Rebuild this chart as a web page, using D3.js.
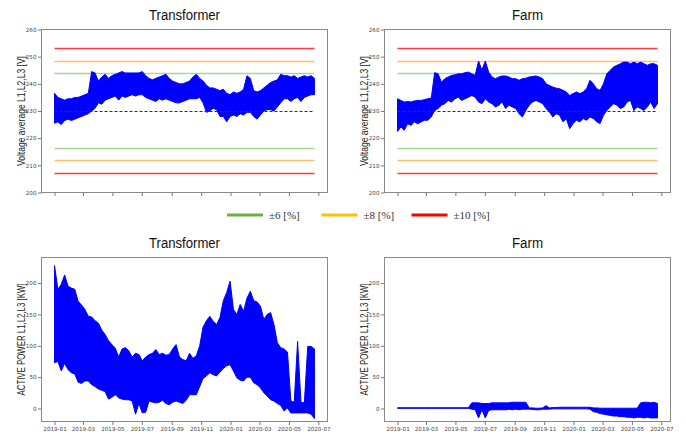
<!DOCTYPE html>
<html>
<head>
<meta charset="utf-8">
<script src="https://cdn.jsdelivr.net/npm/d3@7/dist/d3.min.js"></script>
<style>
  body { margin: 0; background: #fff; }
  svg text { font-family: "DejaVu Sans", sans-serif; }
</style>
</head>
<body>
<svg id="chart" width="686" height="434"></svg>
<script>
// DATA: weekly low / high envelope, first week = 2019-01-01
const startDate = new Date(2019, 0, 1);

const trafoVoltLow = [225.5, 226, 225, 226.5, 227, 226.5, 227, 227.5, 228, 228.5, 229, 230, 231, 233, 232.5, 234,
  234.5, 235, 235.5, 234, 235.5, 235, 235.5, 236, 235.5, 236, 236, 235, 234.5, 234, 233.5, 234.5, 234, 234.5, 234,
  233.5, 233, 233, 233.5, 234, 234.5, 234.5, 234.5, 235, 233, 229.5, 230, 231, 230.5, 228, 228, 226, 228, 228.5,
  228, 229, 228.5, 229.5, 229.5, 228, 227, 228.5, 230, 230.5, 230.5, 230, 231.5, 233, 234.5, 234.5, 233.5, 234.5,
  235, 233.5, 235, 235.5, 236, 236];
const trafoVoltHigh = [236.5, 235, 234.5, 234, 234.5, 234.5, 235, 235, 235.5, 236, 236.5, 244.5, 244, 241, 242.5,
  243.5, 242, 243, 243.5, 244, 244.5, 244, 244, 244, 244, 244, 244.5, 243, 242, 241.5, 242, 242.5, 243, 243.5, 242,
  241, 240.5, 240, 240, 240.5, 241, 242.5, 243.5, 242, 241, 239.5, 238.5, 238.5, 238, 237.5, 238, 236.5, 236, 237,
  236.5, 237, 238, 243, 242, 237.5, 237, 237.5, 238.5, 239.5, 240.5, 241, 241.5, 243.5, 243, 243, 242.5, 243, 242,
  242.5, 243, 242.5, 243, 242];

const farmVoltLow = [222.5, 224.1, 222.9, 225.3, 224.7, 226, 225.3, 226, 226.6, 226.6, 227.8, 230.2, 230.9, 232.1,
  232.7, 233.9, 233.3, 234.5, 235.1, 233.9, 234.5, 235.1, 235.7, 235.1, 233.3, 232.7, 234.5, 233.3, 232.7, 231.5,
  232.1, 233.3, 230.9, 232.1, 231.5, 230.9, 229, 227.8, 230.2, 232.1, 233.3, 233.9, 233.3, 232.7, 230.9, 229.6,
  227.8, 229, 228.4, 226, 227.2, 223.5, 225.4, 226.6, 226, 227.2, 226.6, 227.8, 227.2, 226, 225.4, 228.4, 230.2,
  231.5, 232.7, 232.1, 230.9, 231.5, 233.3, 233.9, 230.2, 231.5, 230.9, 230.2, 231.5, 233.3, 230.9, 232.7];
const farmVoltHigh = [234.5, 233.9, 233.3, 233.5, 233.3, 233.7, 233.9, 233.9, 234.2, 234.5, 234.8, 244.1, 243.7,
  240.6, 241.9, 242.5, 243.1, 243.3, 243.7, 243.7, 244.1, 244.3, 243.7, 243.1, 248.4, 245, 248.4, 244.3, 242.5,
  241.9, 242.5, 242.9, 242.9, 242.5, 241.9, 241.9, 241.3, 241.9, 242.1, 242.5, 242.7, 242.9, 242.5, 241.9, 240,
  239.4, 238.8, 238.4, 238.2, 237.6, 237, 235.7, 236.4, 237, 236.4, 237, 238.2, 241.3, 240, 238.2, 237.6, 240,
  243.7, 245, 246.2, 246.8, 247.4, 248, 248, 247.4, 248, 247.4, 248, 247.4, 246.8, 247.4, 247.4, 246.8];

const trafoPowerLow = [73, 75, 60, 72, 62, 57, 55, 42, 40, 44, 44, 38, 35, 31, 29, 27, 15, 18, 22, 17, 15, 14, 14,
  12, -9, 8, -7, -6, 12, 10, 9, 10, 13, 8, 6, 10, 12, 10, 8, 13, 22, 22, 22, 35, 48, 52, 57, 54, 52, 58, 64, 68,
  70, 60, 49, 45, 44, 50, 50, 41, 38, 33, 25, 20, 14, 12, 8, 5, -4, 1, -7, -7, -7, -7, -7, -7, -9, -16];
const trafoPowerHigh = [228, 190, 198, 213, 195, 192, 190, 171, 165, 158, 147, 146, 140, 136, 125, 118, 108, 102,
  96, 82, 95, 97, 92, 82, 88, 86, 76, 82, 86, 88, 94, 86, 88, 85, 86, 95, 102, 82, 78, 76, 88, 80, 84, 100, 130,
  140, 147, 139, 134, 145, 172, 185, 203, 158, 150, 166, 155, 176, 187, 172, 170, 163, 142, 150, 153, 134, 105, 97,
  95, 90, 12, 10, 107, 10, 9, 99, 99, 95];

const farmPowerLow = [0.3, 0.3, 0.3, 0.3, 0.3, 0.3, 0.3, 0.3, 0.3, 0.3, 0.3, 0.3, 0.3, 0.3, 0.3, 0.3, 0.3, 0.3,
  0.3, 0.3, 0.3, 0.3, -1, -2, -15, -2, -15, -3, -2, -2, -2, -2, -2, -1, -2, -1, -2, -1, -1, -1, -1.5, -2, -2, -1,
  -1, -1, -0.5, -0.5, -0.5, -0.5, -0.5, -0.5, -0.5, -0.5, -0.5, -0.5, -0.5, -1, -5, -6, -8, -9, -10, -11, -12, -12,
  -13, -13, -14, -14, -15, -14, -14, -15, -14, -15, -15, -15];
const farmPowerHigh = [1.2, 1.2, 1.2, 1.2, 1.2, 1.2, 1.2, 1.2, 1.2, 1.2, 1.2, 1.2, 1.2, 1.2, 1.2, 1.2, 1.2, 1.2,
  1.2, 1.2, 1.2, 1.2, 9, 9, 9, 8, 8, 8, 9, 9, 9, 9, 9, 9, 10, 10, 10, 10, 10, 1, 1, 0.5, 0.5, 1, 4.5, 1, 1.5, 1.5,
  2, 2, 2, 2, 2, 2, 2, 2, 2, 2, 1, 1, 0.5, 0.5, 0.5, 0.5, 0.5, 0.5, 0.5, 0.5, 0.5, 0.5, 0.5, 0.5, 9, 10, 10, 9, 10, 8];

const voltTicks = [200, 210, 220, 230, 240, 250, 260];
const powerTicks = [0, 50, 100, 150, 200];
const nominalVoltage = 230;
const limitPcts = [6, 8, 10];
const limitLabels = ['\u00b16 [%]', '\u00b18 [%]', '\u00b110 [%]'];
const titles = ['Transformer', 'Farm'];

// STYLE
const limitColors = ['#a6d895', '#ffbf66', '#ff3b3b'];
const legendColors = ['#70ad47', '#ffc000', '#ff0000'];

const svg = d3.select('#chart');

const dates = trafoVoltLow.map((d, i) => d3.timeDay.offset(startDate, i * 7));
const lastDate = dates[dates.length - 1];
const pad = 27; // days, matplotlib-like margin
const xDomain = [d3.timeDay.offset(startDate, -pad), d3.timeDay.offset(lastDate, pad)];

function panel(opts) {
  const { left, top, right, bottom } = opts;
  const x = d3.scaleTime().domain(xDomain).range([left, right]);
  const y = d3.scaleLinear().domain(opts.yDomain).range([bottom, top]);
  const g = svg.append('g');
  const snap = v => Math.round(v - 0.5) + 0.5;

  // limit lines (voltage panels)
  if (opts.limits) {
    limitPcts.forEach((p, i) => {
      [1 + p / 100, 1 - p / 100].forEach(f => {
        g.append('line')
          .attr('x1', x(startDate)).attr('x2', x(lastDate))
          .attr('y1', snap(y(nominalVoltage * f))).attr('y2', snap(y(nominalVoltage * f)))
          .style('stroke', limitColors[i]).style('stroke-width', 1.3);
      });
    });
  }

  // band of the series: weekly low..high, filled, with the envelope stroked
  const area = d3.area()
    .x((d, i) => x(dates[i]))
    .y0((d, i) => y(opts.lows[i]))
    .y1((d, i) => y(opts.highs[i]));
  g.append('path')
    .attr('d', area(opts.lows))
    .style('fill', '#0000ff')
    .style('stroke', '#0000ff')
    .style('stroke-width', 1)
    .style('stroke-linejoin', 'round');

  if (opts.limits) {
    g.append('line')
      .attr('x1', x(startDate)).attr('x2', x(lastDate))
      .attr('y1', snap(y(nominalVoltage))).attr('y2', snap(y(nominalVoltage)))
      .style('stroke', '#333').style('stroke-width', 1)
      .style('stroke-dasharray', '3,2');
  }

  // frame
  g.append('rect')
    .attr('x', left).attr('y', top)
    .attr('width', right - left).attr('height', bottom - top)
    .style('fill', 'none').style('stroke', '#8a8a8a').style('stroke-width', 1);

  // AXES
  const yAxis = d3.axisLeft(y).tickValues(opts.yTicks).tickSize(3.5).tickPadding(1.5);
  const ya = g.append('g').attr('transform', `translate(${left},0)`).call(yAxis);
  const xAxis = d3.axisBottom(x).ticks(d3.timeMonth.every(2)).tickSize(3.5).tickPadding(2)
    .tickFormat(opts.xLabels ? d3.timeFormat('%Y-%m') : '');
  const xa = g.append('g').attr('transform', `translate(0,${bottom})`).call(xAxis);
  [ya, xa].forEach(a => {
    a.select('.domain').remove();
    a.selectAll('line').style('stroke', '#777');
    a.selectAll('text').attr('fill', '#444').style('fill', '#444').style('font-size', '5.6px')
      .style('font-family', '"DejaVu Sans", sans-serif');
  });

  g.append('text')
    .attr('x', (left + right) / 2).attr('y', top - 9.5)
    .attr('text-anchor', 'middle')
    .attr('textLength', opts.titleLen).attr('lengthAdjust', 'spacingAndGlyphs')
    .style('font-family', '"Liberation Sans", Arial, sans-serif')
    .style('font-size', '14px').style('fill', '#111')
    .text(opts.title);

  g.append('text')
    .attr('transform', `translate(${left - 17},${(top + bottom) / 2}) rotate(-90)`)
    .attr('text-anchor', 'middle')
    .attr('textLength', opts.labelLen).attr('lengthAdjust', 'spacingAndGlyphs')
    .style('font-family', '"Liberation Sans", Arial, sans-serif')
    .style('font-size', '10.5px').style('fill', '#222')
    .text(opts.yLabel);
}

const voltLabel = 'Voltage average L1,L2,L3 [V]';
const powerLabel = 'ACTIVE POWER L1,L2,L3 [KW]';

panel({ left: 41.5, top: 29.5, right: 327.5, bottom: 192.5, yDomain: [200, 260], yTicks: voltTicks,
  lows: trafoVoltLow, highs: trafoVoltHigh, limits: true, xLabels: false,
  title: titles[0], titleLen: 71, yLabel: voltLabel, labelLen: 110 });
panel({ left: 384.5, top: 29.5, right: 670.5, bottom: 192.5, yDomain: [200, 260], yTicks: voltTicks,
  lows: farmVoltLow, highs: farmVoltHigh, limits: true, xLabels: false,
  title: titles[1], titleLen: 31, yLabel: voltLabel, labelLen: 110 });
panel({ left: 41.5, top: 257.5, right: 327.5, bottom: 421.5, yDomain: [-20.7, 240.8], yTicks: powerTicks,
  lows: trafoPowerLow, highs: trafoPowerHigh, limits: false, xLabels: true,
  title: titles[0], titleLen: 71, yLabel: powerLabel, labelLen: 112 });
panel({ left: 384.5, top: 257.5, right: 670.5, bottom: 421.5, yDomain: [-20.7, 240.8], yTicks: powerTicks,
  lows: farmPowerLow, highs: farmPowerHigh, limits: false, xLabels: true,
  title: titles[1], titleLen: 31, yLabel: powerLabel, labelLen: 112 });

// LEGEND
const legendX = [227, 321.5, 411.5];
const legend = svg.append('g').attr('transform', 'translate(0,215)');
limitLabels.forEach((lab, i) => {
  legend.append('line')
    .attr('x1', legendX[i]).attr('x2', legendX[i] + 36)
    .attr('y1', 0).attr('y2', 0)
    .style('stroke', legendColors[i]).style('stroke-width', 2.8);
  legend.append('text')
    .attr('x', legendX[i] + 42).attr('y', 3.8)
    .style('font-family', '"Liberation Serif", "DejaVu Serif", serif')
    .style('font-size', '11px').style('fill', '#333')
    .text(lab);
});
</script>
</body>
</html>
